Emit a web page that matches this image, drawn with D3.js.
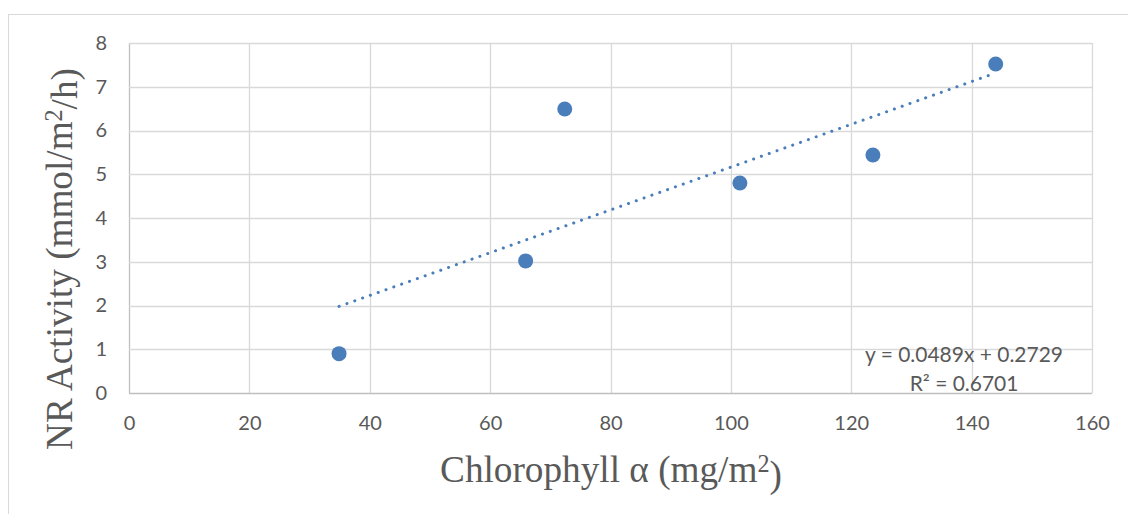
<!DOCTYPE html>
<html>
<head>
<meta charset="utf-8">
<script src="https://cdn.jsdelivr.net/npm/d3@7"></script>
<style>
  body { margin: 0; background: #fff; }
  svg { display: block; }
  .tick text { font-family: Lato, "Open Sans", sans-serif; font-size: 20px; fill: #595959; }
  .axis-title { font-family: "Liberation Serif", "Times New Roman", serif; fill: #595959; }
  .eq { font-family: Lato, "Open Sans", sans-serif; font-size: 20px; fill: #595959; }
</style>
</head>
<body>
<div id="chart"></div>
<script>
// ---------- Data ----------
const chlorophyll = [34.9, 65.9, 72.4, 101.5, 123.6, 144.0];
const nrActivity  = [0.9, 3.02, 6.49, 4.8, 5.44, 7.52];
const xTicks = [0, 20, 40, 60, 80, 100, 120, 140, 160];
const yTicks = [0, 1, 2, 3, 4, 5, 6, 7, 8];
const slope = 0.0489;
const intercept = 0.2729;
const eqLines = ["y = 0.0489x + 0.2729", "R² = 0.6701"];

// ---------- Layout ----------
const width = 1128, height = 514;
const margin = { top: 43, right: 36, bottom: 121, left: 129 };

const svg = d3.select("#chart").append("svg")
  .attr("width", width)
  .attr("height", height);

// chart frame (cropped on the right and bottom)
svg.append("rect")
  .attr("x", 8.5).attr("y", 14.5)
  .attr("width", width + 10).attr("height", height + 10)
  .attr("fill", "none")
  .attr("stroke", "#d9d9d9");

const x = d3.scaleLinear().domain([0, 160]).range([margin.left, width - margin.right]);
const y = d3.scaleLinear().domain([0, 8]).range([height - margin.bottom, margin.top]);

// ---------- Grid ----------
const grid = svg.append("g");
grid.selectAll(".vx").data(xTicks).enter().append("line")
  .attr("x1", d => Math.round(x(d)) + 0.5).attr("x2", d => Math.round(x(d)) + 0.5)
  .attr("y1", y(8)).attr("y2", y(0))
  .attr("stroke", d => d === 0 ? "#bfbfbf" : "#d9d9d9")
  .attr("stroke-width", 1.3);
grid.selectAll(".hy").data(yTicks).enter().append("line")
  .attr("y1", d => Math.round(y(d)) + 0.5).attr("y2", d => Math.round(y(d)) + 0.5)
  .attr("x1", x(0)).attr("x2", x(160))
  .attr("stroke", d => d === 0 ? "#bfbfbf" : "#d9d9d9")
  .attr("stroke-width", 1.3);

// ---------- Axes (labels only) ----------
svg.append("g")
  .attr("transform", `translate(0,${y(0) + 13})`)
  .call(d3.axisBottom(x).tickValues(xTicks).tickSize(0).tickPadding(10))
  .call(g => g.select(".domain").remove());

svg.append("g")
  .attr("transform", `translate(${x(0) - 12},0)`)
  .call(d3.axisLeft(y).tickValues(yTicks).tickSize(0).tickPadding(10))
  .call(g => g.select(".domain").remove())
  .call(g => g.selectAll("text").attr("dy", "0.32em"));

// ---------- Trendline ----------
const xMin = d3.min(chlorophyll), xMax = d3.max(chlorophyll);
svg.append("line")
  .attr("x1", x(xMin)).attr("y1", y(slope * xMin + intercept))
  .attr("x2", x(xMax)).attr("y2", y(slope * xMax + intercept))
  .attr("stroke", "#4a7ebb")
  .attr("stroke-width", 3)
  .attr("stroke-linecap", "round")
  .attr("stroke-dasharray", "0.1 8.2");

// ---------- Points ----------
svg.append("g").selectAll("circle")
  .data(chlorophyll.map((c, i) => [c, nrActivity[i]]))
  .enter().append("circle")
  .attr("cx", d => x(d[0]))
  .attr("cy", d => y(d[1]))
  .attr("r", 7.5)
  .attr("fill", "#4a7ebb");

// scale a text's font so its drawn width matches the reference
function fitWidth(sel, target) {
  const base = parseFloat(sel.style("font-size"));
  const w = sel.node().getComputedTextLength();
  if (w > 0) sel.style("font-size", (base * target / w) + "px");
}

// ---------- Equation ----------
const eq1 = svg.append("text").attr("class", "eq")
  .attr("x", 964).attr("y", 362)
  .attr("text-anchor", "middle")
  .text(eqLines[0]);
fitWidth(eq1, 198);
svg.append("text").attr("class", "eq")
  .attr("x", 964).attr("y", 391)
  .attr("text-anchor", "middle")
  .style("font-size", eq1.style("font-size"))
  .text(eqLines[1]);

// ---------- Axis titles ----------
function title(textMain, tail) {
  const t = svg.append("text").attr("class", "axis-title")
    .attr("text-anchor", "middle")
    .style("font-size", "35px");
  t.append("tspan").text(textMain);
  t.append("tspan").attr("class", "sup").attr("dy", "-0.4em").style("font-size", "0.65em").text("2");
  t.append("tspan").attr("dy", "0.4em").text(tail);
  return t;
}

const xt = title("Chlorophyll α (mg/m", ")").attr("x", 611).attr("y", 482);
fitWidth(xt, 342);

const yt = title("NR Activity (mmol/m", "/h)").attr("transform", "translate(72,259) rotate(-90)");
fitWidth(yt, 382);
</script>
</body>
</html>
